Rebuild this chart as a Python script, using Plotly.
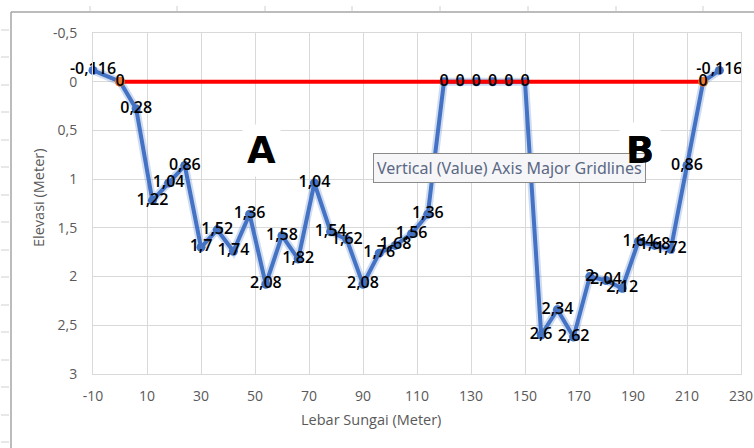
import plotly.graph_objects as go

# ---- data ----
lebar = [-10, 0, 6, 12, 18, 24, 30, 36, 42, 48, 54, 60, 66, 72, 78, 84, 90, 96, 102,
         108, 114, 120, 126, 132, 138, 144, 150, 156, 162, 168, 174, 180, 186, 192,
         198, 204, 210, 216, 222]
elevasi = [-0.116, 0, 0.28, 1.22, 1.04, 0.86, 1.7, 1.52, 1.74, 1.36, 2.08, 1.58, 1.82,
           1.04, 1.54, 1.62, 2.08, 1.76, 1.68, 1.56, 1.36, 0, 0, 0, 0, 0, 0, 2.6, 2.34,
           2.62, 2, 2.04, 2.12, 1.64, 1.68, 1.72, 0.86, 0, -0.116]
muka_air_x = [0, 216]
muka_air_y = [0, 0]

x_ticks = [-10, 10, 30, 50, 70, 90, 110, 130, 150, 170, 190, 210, 230]
x_ticktext = ["-10", "10", "30", "50", "70", "90", "110", "130", "150", "170", "190", "210", "230"]
y_ticks = [-0.5, 0, 0.5, 1, 1.5, 2, 2.5, 3]
y_ticktext = ["-0,5", "0", "0,5", "1", "1,5", "2", "2,5", "3"]


def fmt(v):
    s = ("%g" % v)
    return s.replace(".", ",")


labels = [fmt(v) for v in elevasi]

# pixel -> paper helpers (plot area 93..741 x, 33..374 y)
L, R, T, B = 93, 741, 33, 374


def px(x):
    return (x - L) / (R - L)


def py(y):
    return (B - y) / (B - T)


fig = go.Figure()

# soft shadow under the profile line
fig.add_trace(go.Scatter(
    x=lebar, y=elevasi, mode="lines",
    line=dict(color="rgba(68,114,196,0.25)", width=8),
    hoverinfo="skip", showlegend=False, cliponaxis=False))

fig.add_trace(go.Scatter(
    x=lebar, y=elevasi, mode="lines+markers",
    line=dict(color="#4472C4", width=4),
    marker=dict(color="#4472C4", size=9),
    showlegend=False, cliponaxis=False))

fig.add_trace(go.Scatter(
    x=muka_air_x, y=muka_air_y, mode="lines+markers",
    line=dict(color="#FF0000", width=4),
    marker=dict(color="#ED7D31", size=10),
    showlegend=False, cliponaxis=False))

fig.add_trace(go.Scatter(
    x=lebar, y=elevasi, mode="text", text=labels,
    textposition="middle center",
    textfont=dict(family="Open Sans", size=16, color="#000000", weight=600),
    showlegend=False, cliponaxis=False, hoverinfo="skip"))

tickfont = dict(family="Open Sans", size=14, color="#595959")
fig.update_xaxes(
    range=[-10, 230], tickvals=x_ticks, ticktext=x_ticktext,
    showgrid=True, gridcolor="#d9d9d9", gridwidth=1,
    showline=True, linecolor="#d9d9d9", mirror=True,
    zeroline=False, ticks="", ticklabelstandoff=9, tickfont=tickfont)
fig.update_yaxes(
    range=[3, -0.5], tickvals=y_ticks, ticktext=y_ticktext,
    showgrid=True, gridcolor="#d9d9d9", gridwidth=1,
    showline=True, linecolor="#d9d9d9", mirror=True,
    zeroline=False, ticks="", ticklabelstandoff=12, tickfont=tickfont)

big = dict(family="DejaVu Sans", size=37, color="#000000")
annotations = [
    dict(text="Lebar Sungai (Meter)", x=px(371), y=py(420), xref="paper", yref="paper",
         xanchor="center", yanchor="middle", showarrow=False,
         font=dict(family="Open Sans", size=14.5, color="#595959")),
    dict(text="Elevasi (Meter)", x=px(38), y=py(198), xref="paper", yref="paper",
         xanchor="center", yanchor="middle", textangle=-90, showarrow=False,
         font=dict(family="Open Sans", size=14.5, color="#595959")),
    dict(text="<b>A</b>", x=px(261), y=py(150), xref="paper", yref="paper",
         xanchor="center", yanchor="middle",
         showarrow=False, bgcolor="#ffffff", borderpad=4, font=big),
    # white text-box behind B
    dict(text="<b>B</b>", x=px(640), y=py(150), xref="paper", yref="paper",
         xanchor="center", yanchor="middle",
         showarrow=False, bgcolor="#ffffff", borderpad=6, font=big),
    dict(text="Vertical (Value) Axis Major Gridlines", x=px(509), y=py(168),
         xref="paper", yref="paper", xanchor="center", yanchor="middle", showarrow=False,
         bgcolor="#f6f6f9", bordercolor="#8a8a8a", borderwidth=1, borderpad=3,
         font=dict(family="Noto Sans", size=16, color="#5a6884")),
    # B glyph drawn again above the tooltip
    dict(text="<b>B</b>", x=px(640), y=py(150), xref="paper", yref="paper",
         xanchor="center", yanchor="middle",
         showarrow=False, borderpad=6, font=big),
]

shapes = [
    # chart frame (left and top edges visible)
    dict(type="line", xref="paper", yref="paper", x0=px(11), y0=py(448), x1=px(11), y1=py(12),
         line=dict(color="#a6a6a6", width=1.5)),
    dict(type="line", xref="paper", yref="paper", x0=px(11), y0=py(12), x1=px(754), y1=py(12),
         line=dict(color="#a6a6a6", width=1.5)),
]
# spreadsheet cell marks peeking around the chart
for cx in [90, 177, 265, 352, 440, 528, 616, 703]:
    shapes.append(dict(type="line", xref="paper", yref="paper", x0=px(cx), y0=py(6),
                       x1=px(cx), y1=py(11), line=dict(color="#d0d0d0", width=1)))
for cy in [30, 57, 85, 112, 140, 167, 195, 222, 250, 277, 305, 332, 360, 387, 415, 442]:
    shapes.append(dict(type="line", xref="paper", yref="paper", x0=px(1), y0=py(cy),
                       x1=px(9), y1=py(cy), line=dict(color="#d0d0d0", width=1)))

fig.update_layout(
    width=754, height=448,
    margin=dict(l=L, r=754 - R, t=T, b=448 - B, autoexpand=False),
    paper_bgcolor="#ffffff", plot_bgcolor="#ffffff",
    annotations=annotations, shapes=shapes, showlegend=False,
    separators=", ")

fig.write_html("out.html")
